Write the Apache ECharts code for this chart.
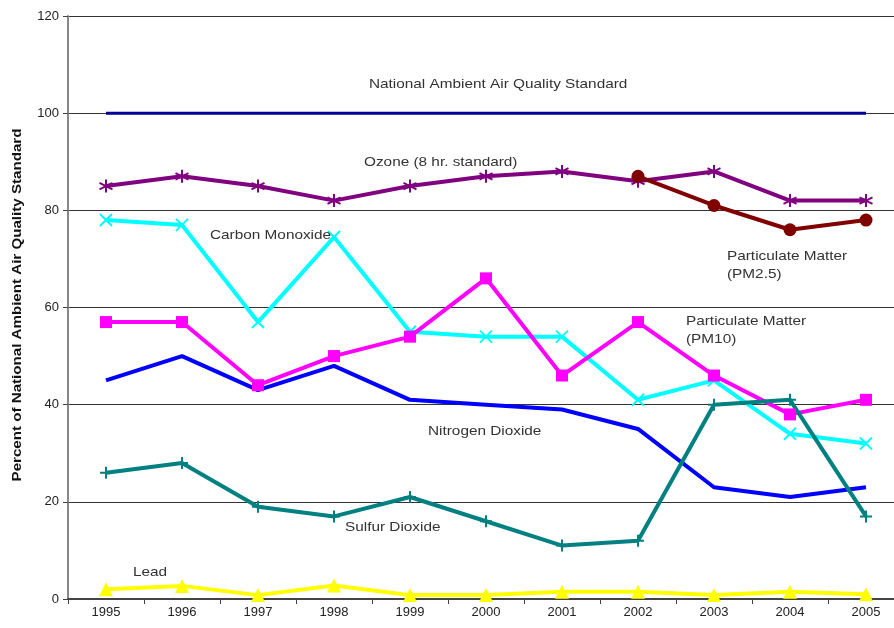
<!DOCTYPE html>
<html>
<head>
<meta charset="utf-8">
<script src="https://cdn.jsdelivr.net/npm/echarts@6/dist/echarts.min.js"></script>
<style>
  html, body { margin: 0; padding: 0; background: #fff; overflow: hidden; width: 894px; height: 628px; }
  /* the plot runs past the right edge of the page, so the canvas is a little wider than the window */
  #chart { width: 904px; height: 628px; }
</style>
</head>
<body>
<div id="chart"></div>
<script>
// Years on the category axis
const years = ['1995','1996','1997','1998','1999','2000','2001','2002','2003','2004','2005'];

// Percent of the National Ambient Air Quality Standard, by pollutant
const standard      = [100, 100, 100, 100, 100, 100, 100, 100, 100, 100, 100];
const ozone         = [85, 87, 85, 82, 85, 87, 88, 86, 88, 82, 82];
const pm25          = [null, null, null, null, null, null, null, 87, 81, 76, 78];
const carbonMonox   = [78, 77, 57, 74.5, 55, 54, 54, 41, 45, 34, 32];
const pm10          = [57, 57, 44, 50, 54, 66, 46, 57, 46, 38, 41];
const nitrogenDiox  = [45, 50, 43, 48, 41, 40, 39, 35, 23, 21, 23];
const sulfurDiox    = [26, 28, 19, 17, 21, 16, 11, 12, 40, 41, 17];
const lead          = [2, 2.7, 0.8, 2.8, 0.8, 0.8, 1.5, 1.5, 0.8, 1.5, 1];

// Value axis ticks
const yTicks = { min: 0, max: 120, interval: 20 };

const yTitle = 'Percent of National Ambient Air Quality Standard';

const font = 'Liberation Sans, Arial, sans-serif';

const starPath  = 'path://M5,0L5,10M0.8,2.5L9.2,7.5M9.2,2.5L0.8,7.5';
const crossPath = 'path://M0,0L10,10M10,0L0,10';
const plusPath  = 'path://M5,0L5,10M0,5L10,5';

function lineSeries(name, data, color, width, symbol, size, stroked) {
  return {
    name: name,
    type: 'line',
    data: data,
    connectNulls: false,
    symbol: symbol,
    symbolSize: size,
    showSymbol: symbol !== 'none',
    lineStyle: { color: color, width: width },
    itemStyle: stroked
      ? { color: 'rgba(0,0,0,0)', borderColor: color, borderWidth: 2 }
      : { color: color, borderColor: color, borderWidth: 0 },
    emphasis: { disabled: true },
    animation: false,
    z: 3
  };
}

const chart = echarts.init(document.getElementById('chart'), null, { renderer: 'canvas' });

// Series captions are set in a widened face
const labelStyle = { fill: '#333', font: '13px ' + font };

function note(x, y, text) {
  return {
    type: 'text',
    left: x, top: y,
    origin: [0, 0],
    scaleX: 1.18,
    style: Object.assign({ text: text, lineHeight: 18 }, labelStyle),
    z: 10
  };
}

chart.setOption({
  backgroundColor: '#ffffff',
  grid: { left: 68, right: 0, top: 16, bottom: 29, containLabel: false },
  xAxis: {
    type: 'category',
    data: years,
    boundaryGap: true,
    axisLine: { lineStyle: { color: '#444', width: 2 } },
    axisTick: { show: true, length: 5, lineStyle: { color: '#444', width: 1 } },
    axisLabel: { color: '#222', fontFamily: font, fontSize: 13, margin: 7 },
    splitLine: { show: false }
  },
  yAxis: {
    type: 'value',
    min: yTicks.min, max: yTicks.max, interval: yTicks.interval,
    axisLine: { show: true, lineStyle: { color: '#888', width: 2 } },
    axisTick: { show: true, length: 5, lineStyle: { color: '#444' } },
    axisLabel: { color: '#222', fontFamily: font, fontSize: 13, margin: 9 },
    splitLine: { show: true, lineStyle: { color: '#333', width: 1 } }
  },
  series: [
    lineSeries('National Ambient Air Quality Standard', standard, '#000099', 3, 'none', 0, false),
    lineSeries('Ozone (8 hr. standard)', ozone, '#800080', 4, starPath, 13, true),
    lineSeries('Particulate Matter (PM2.5)', pm25, '#800000', 4, 'circle', 13, false),
    lineSeries('Carbon Monoxide', carbonMonox, '#00FFFF', 4, crossPath, 12, true),
    lineSeries('Particulate Matter (PM10)', pm10, '#FF00FF', 4, 'rect', 12, false),
    lineSeries('Nitrogen Dioxide', nitrogenDiox, '#0000FF', 4, 'none', 0, false),
    lineSeries('Sulfur Dioxide', sulfurDiox, '#008080', 4, plusPath, 12, true),
    lineSeries('Lead', lead, '#FFFF00', 4, 'triangle', 14, false)
  ],
  graphic: [
    // vertical value-axis title, stretched along its length
    {
      type: 'text',
      x: 18, y: 305,
      rotation: Math.PI / 2,
      scaleX: 1.26,
      style: {
        text: yTitle,
        fill: '#111',
        font: 'bold 12px ' + font,
        textAlign: 'center',
        textVerticalAlign: 'middle'
      },
      z: 10
    },
    note(369, 75, 'National Ambient Air Quality Standard'),
    note(364, 153, 'Ozone (8 hr. standard)'),
    note(210, 226, 'Carbon Monoxide'),
    note(727, 247, 'Particulate Matter\n(PM2.5)'),
    note(686, 312, 'Particulate Matter\n(PM10)'),
    note(428, 422, 'Nitrogen Dioxide'),
    note(345, 518, 'Sulfur Dioxide'),
    note(133, 563, 'Lead')
  ]
});
</script>
</body>
</html>
